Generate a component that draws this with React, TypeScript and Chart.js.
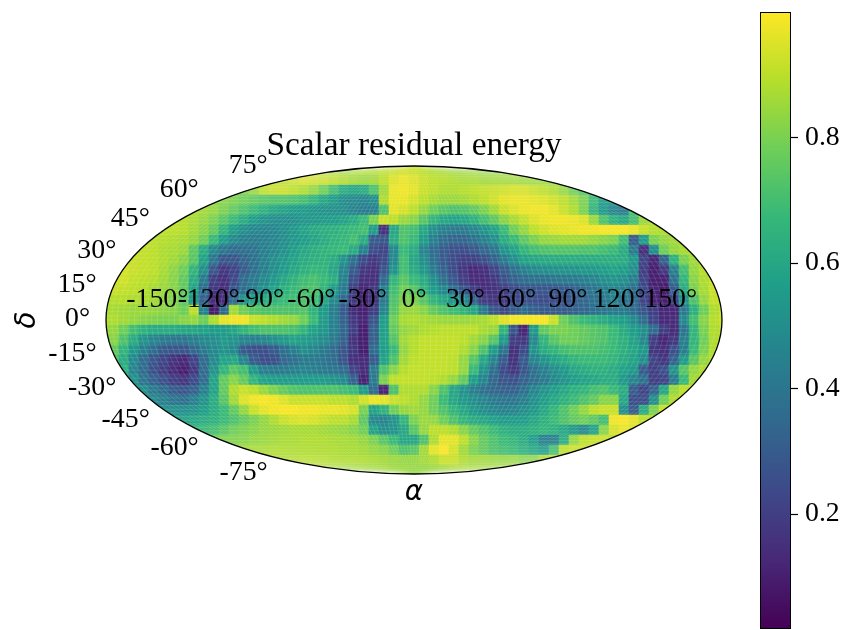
import React, { useEffect, useRef } from "react";
import { Chart, registerables } from "chart.js";

Chart.register(...registerables);

// Residual energy in percent, read from the map. Each row is one band of the
// projected map, top to bottom, and is centred on the map's central meridian.
const r00 = [88,88,87,86,87,88,88,90,92,93,92,90,88,87,86,85,85,84,84,84,84];
const r01 = [88,89,90,92,94,93,92,90,88,86,85,86,90,95,97,95,92,90,89,88,87,87,86,86,86,86,85,85,85,84,82];
const r02 = [78,80,84,90,92,92,90,88,84,78,70,62,60,62,72,86,97,98,96,92,90,88,88,89,90,91,92,93,94,94,92,90,88,84,78,72,70];
const r03 = [82,82,80,78,76,74,73,73,72,70,66,60,55,50,48,46,50,88,97,97,94,90,87,85,85,86,88,90,93,96,97,97,96,95,93,90,86,80,68,55,55];
const r04 = [88,86,84,80,76,72,68,64,60,58,56,55,53,52,51,50,46,43,44,72,96,94,90,84,78,74,72,73,76,80,86,92,95,97,98,98,96,92,88,80,66,54,46,42,70];
const r05 = [90,89,87,84,80,74,68,62,56,52,50,50,51,53,54,55,56,58,62,68,80,92,90,85,82,74,66,60,58,60,64,70,75,82,87,91,95,97,98,98,97,95,85,72,64,60,70,85,88];
const r06 = [90,90,90,89,86,82,76,66,56,50,47,46,47,50,54,58,61,63,64,66,68,70,55,15,60,72,70,60,50,44,42,42,46,52,58,68,78,84,90,93,95,96,97,98,98,99,99,99,97,92,89,88,88];
const r07 = [90,90,89,88,87,84,78,68,56,48,44,43,44,46,50,53,56,59,62,65,67,70,62,30,28,62,72,68,56,44,36,33,33,38,44,50,62,68,75,80,84,85,86,86,86,84,82,80,70,30,55,80,84,86,87];
const r08 = [92,91,90,88,87,85,75,62,48,40,36,37,39,44,47,51,56,60,63,65,67,68,62,45,25,22,48,68,62,46,36,30,26,25,29,34,40,52,58,66,70,72,73,73,73,72,72,70,68,62,42,15,50,78,84,87,90];
const r09 = [93,92,91,90,88,86,82,74,58,40,28,28,33,38,44,50,54,58,62,64,65,62,52,38,24,18,24,48,70,60,50,38,30,24,20,21,26,32,42,50,58,60,61,62,62,62,62,62,63,63,62,54,22,12,32,64,80,86,89];
const r10 = [95,94,92,91,90,87,83,78,66,50,28,18,22,30,38,44,50,55,60,64,67,66,60,46,30,18,15,27,52,70,62,54,42,32,24,17,13,15,22,30,38,44,48,50,51,52,52,53,54,56,58,56,50,20,10,18,44,70,84,89,91];
const r11 = [94,93,91,90,89,86,82,76,62,42,20,15,24,36,42,48,54,60,65,69,71,68,63,45,25,15,15,35,66,74,68,62,50,38,28,20,14,14,18,26,32,36,38,38,40,41,42,44,46,50,52,50,44,22,10,11,38,66,82,88,92];
const r12 = [91,92,91,90,89,87,85,82,76,58,36,18,15,28,38,44,52,58,64,68,71,72,66,55,42,20,12,18,45,70,78,74,66,56,48,38,28,20,15,16,20,24,28,28,28,28,30,32,36,40,44,47,44,38,24,12,9,30,62,80,87,92,93];
const r13 = [89,89,89,88,88,86,84,81,75,54,32,14,14,36,52,58,62,65,68,70,72,70,60,48,35,18,11,17,42,72,80,80,74,66,60,54,48,32,20,17,19,23,26,26,25,25,27,30,34,38,42,44,40,36,22,12,10,22,52,72,84,91,92];
const r14 = [88,87,86,85,85,84,83,82,78,90,45,10,35,86,78,74,72,72,72,72,73,65,55,44,30,14,11,20,47,74,84,85,82,76,72,69,66,60,42,28,24,30,36,32,30,30,30,32,34,38,40,42,42,36,28,20,13,13,42,64,78,88,92];
const r15 = [89,88,86,84,82,81,80,80,82,84,78,88,96,98,98,92,90,88,86,84,78,68,55,45,32,18,12,28,56,78,87,88,87,86,85,85,85,86,87,90,95,98,99,99,99,92,78,72,68,65,62,58,56,48,36,22,13,14,48,70,82,89,92];
const r16 = [86,84,78,70,65,62,62,62,60,60,58,56,56,60,66,70,72,72,72,71,66,58,53,45,34,20,10,32,57,76,84,86,88,89,90,90,90,90,87,85,66,28,12,55,76,80,80,78,76,74,72,68,62,56,50,36,20,14,40,66,80,88,90];
const r17 = [84,82,72,62,52,46,42,40,40,44,48,50,54,52,46,44,46,50,54,58,56,53,49,42,32,16,10,32,57,73,86,89,91,91,91,91,90,86,82,74,55,20,18,48,66,74,78,78,76,74,72,68,64,58,48,20,12,18,44,66,78,88,90];
const r18 = [78,76,66,54,44,36,30,28,28,34,42,48,52,48,30,26,26,30,38,44,50,47,42,36,28,18,10,36,56,68,84,89,91,91,91,91,88,82,72,56,40,16,24,52,62,66,70,72,72,72,70,68,64,60,54,18,15,26,44,68,80,88,90];
const r19 = [74,62,48,36,28,22,16,13,22,36,48,58,60,46,30,25,26,34,38,42,42,40,36,27,15,14,30,58,72,86,90,91,91,91,90,84,74,60,46,30,16,30,46,52,58,62,66,68,68,68,66,62,58,50,22,17,32,55,74,84,90];
const r20 = [72,64,46,36,26,20,14,10,18,36,52,66,74,70,54,44,42,42,44,46,44,42,40,36,22,14,42,72,82,89,91,91,91,91,90,84,68,52,38,24,18,28,38,44,50,54,60,62,64,64,62,58,54,30,20,26,52,74,84,88,90];
const r21 = [62,52,40,32,26,20,17,24,36,58,76,82,76,66,58,56,55,55,55,55,55,52,48,32,11,42,80,90,91,91,91,90,88,84,76,56,46,34,28,26,32,38,42,48,52,56,58,60,62,62,54,46,38,20,22,42,68,86,90];
const r22 = [58,50,42,36,30,28,32,44,58,76,88,92,90,85,80,76,73,72,72,72,72,70,68,55,36,12,72,88,88,88,82,72,60,52,44,38,34,32,32,38,46,52,56,60,64,66,70,72,68,62,30,22,32,60,84,90,92];
const r23 = [52,48,44,40,38,44,52,62,74,86,95,98,99,98,95,92,92,92,92,90,90,88,93,97,96,92,90,88,84,78,68,60,54,50,46,42,40,40,44,50,56,60,64,68,72,76,82,82,60,25,25,50,78,88,92];
const r24 = [52,50,50,50,52,56,62,68,76,84,92,96,98,99,99,98,98,97,97,96,94,80,58,65,78,84,86,84,78,72,66,60,54,50,47,45,46,50,54,60,66,72,78,84,90,92,92,50,30,62,80,92,93];
const r25 = [58,58,60,62,64,68,72,76,80,84,88,92,94,95,94,92,90,90,87,75,48,46,52,66,80,85,84,78,72,66,62,60,57,55,55,56,60,64,68,72,76,78,75,70,98,99,96,90,88];
const r26 = [66,68,70,74,78,80,82,84,85,86,87,87,87,86,85,84,82,78,58,50,52,60,74,84,90,90,88,82,76,72,68,64,62,62,64,66,64,60,54,48,58,82,94,97,95];
const r27 = [78,80,81,82,84,85,86,87,87,88,88,88,87,87,86,84,80,74,68,60,60,72,88,96,96,90,82,76,72,68,66,62,56,44,44,62,84,90,92,92,90];
const r28 = [86,86,87,87,88,88,88,88,88,88,88,87,87,86,84,82,78,72,74,86,96,99,94,86,80,76,72,70,68,64,60,56,70,90,92,92,92];
const r29 = [88,88,88,88,89,89,89,88,88,88,88,87,86,85,84,84,86,88,92,92,88,86,86,85,84,84,82,82,88,90,92];
const r30 = [88,88,87,86,86,86,86,86,85,85,84,84,85,86,87,87,86,86,86,86,88];

const mapRows = [r00,r01,r02,r03,r04,r05,r06,r07,r08,r09,r10,r11,r12,r13,r14,r15,r16,r17,r18,r19,r20,r21,r22,r23,r24,r25,r26,r27,r28,r29,r30];
const lonTicks = [-150,-120,-90,-60,-30,0,30,60,90,120,150];
const latTicks = [75,60,45,30,15,0,-15,-30,-45,-60,-75];
const colorbarTicks = [0.2,0.4,0.6,0.8];
const valueMin = 0.017;
const valueMax = 1.0;
const viridis = ["#440154","#482878","#3e4989","#31688e","#26828e","#1f9e89","#35b779","#6ece58","#b5de2b","#fde725"];

const TIMES = "'Liberation Serif'";
const LABEL_SIZE = 27.8;
const HALF_X = 30.8; // half map width, in columns
const HALF_Y = 15.4; // half map height, in rows

function hexToRgb(h: string) {
  return [parseInt(h.slice(1,3),16), parseInt(h.slice(3,5),16), parseInt(h.slice(5,7),16)];
}
function colorFor(v: number) {
  const t = Math.max(0, Math.min(1, (v - valueMin) / (valueMax - valueMin))) * (viridis.length - 1);
  const i = Math.min(viridis.length - 2, Math.floor(t));
  const a = hexToRgb(viridis[i]), b = hexToRgb(viridis[i + 1]), f = t - i;
  return `rgb(${a.map((c, k) => Math.round(c + (b[k] - c) * f)).join(",")})`;
}
// Mollweide auxiliary angle for a latitude in degrees
function auxAngle(latDeg: number) {
  const phi = (latDeg * Math.PI) / 180;
  if (Math.abs(Math.abs(latDeg) - 90) < 1e-6) return Math.sign(latDeg) * Math.PI / 2;
  let th = phi;
  for (let k = 0; k < 30; k++) {
    th -= (2 * th + Math.sin(2 * th) - Math.PI * Math.sin(phi)) / (2 + 2 * Math.cos(2 * th));
  }
  return th;
}
const projX = (lon: number, lat: number) => (lon / 180) * HALF_X * Math.cos(auxAngle(lat));
const projY = (lat: number) => HALF_Y * Math.sin(auxAngle(lat));

const cells: { x: number; y: number; v: number }[] = [];
mapRows.forEach((row, j) => {
  row.forEach((n, i) => {
    cells.push({ x: i - (row.length - 1) / 2, y: 15 - j, v: n / 100 });
  });
});

const mapPlugin = {
  id: "mollweideFrame",
  beforeDatasetsDraw(chart: any) {
    const { ctx, scales: { x, y } } = chart;
    const cx = x.getPixelForValue(0), cy = y.getPixelForValue(0);
    ctx.save();
    ctx.beginPath();
    ctx.ellipse(cx, cy, x.getPixelForValue(HALF_X) - cx, cy - y.getPixelForValue(HALF_Y), 0, 0, Math.PI * 2);
    ctx.clip();
  },
  afterDatasetsDraw(chart: any) {
    const { ctx, scales: { x, y } } = chart;
    const cx = x.getPixelForValue(0), cy = y.getPixelForValue(0);
    const rx = x.getPixelForValue(HALF_X) - cx, ry = cy - y.getPixelForValue(HALF_Y);
    // faint seams between the mesh cells
    ctx.strokeStyle = "rgba(255,255,255,0.13)";
    ctx.lineWidth = 1;
    ctx.beginPath();
    for (let lat = -88; lat <= 88; lat += 2) {
      const py = y.getPixelForValue(projY(lat));
      ctx.moveTo(cx - rx, py);
      ctx.lineTo(cx + rx, py);
    }
    for (let lon = -180; lon <= 180; lon += 3.33) {
      for (let lat = -88; lat <= 88; lat += 4) {
        const px = x.getPixelForValue(projX(lon, lat)), py = y.getPixelForValue(projY(lat));
        if (lat === -88) ctx.moveTo(px, py); else ctx.lineTo(px, py);
      }
    }
    ctx.stroke();
    ctx.restore();

    ctx.save();
    ctx.strokeStyle = "#000";
    ctx.lineWidth = 1.3;
    ctx.beginPath();
    ctx.ellipse(cx, cy, rx, ry, 0, 0, Math.PI * 2);
    ctx.stroke();

    ctx.fillStyle = "#000";
    ctx.font = `${LABEL_SIZE}px ${TIMES}`;
    ctx.textBaseline = "alphabetic";
    ctx.textAlign = "center";
    lonTicks.forEach((lon) => {
      ctx.fillText(`${lon}°`, x.getPixelForValue(projX(lon, 0)), cy - 13);
    });
    ctx.textAlign = "right";
    ctx.textBaseline = "middle";
    latTicks.forEach((lat) => {
      const ex = x.getPixelForValue(projX(-180, lat)) - 16;
      const ey = y.getPixelForValue(projY(lat) * 1.1) - 1;
      ctx.fillText(`${lat}°`, ex, ey);
    });
    ctx.restore();
  },
};

export default function App() {
  const mapRef = useRef<HTMLCanvasElement>(null);
  const barRef = useRef<HTMLCanvasElement>(null);

  useEffect(() => {
    const map = new Chart(mapRef.current as HTMLCanvasElement, {
      type: "scatter",
      data: {
        datasets: [{
          label: "Scalar residual energy",
          data: cells.map((c) => ({ x: c.x, y: c.y })),
          pointStyle: "rect",
          pointRadius: 7.5,
          pointHoverRadius: 7.5,
          pointBorderWidth: 0,
          pointBackgroundColor: cells.map((c) => colorFor(c.v)),
          showLine: false,
        }],
      },
      options: {
        responsive: false,
        animation: false,
        events: [],
        layout: { autoPadding: false, padding: { left: 0, right: 122, top: 0, bottom: 0 } },
        plugins: {
          legend: { display: false },
          tooltip: { enabled: false },
          title: {
            display: true,
            fullSize: false,
            text: "Scalar residual energy",
            color: "#000",
            font: { family: TIMES, size: 33.3, weight: "normal", lineHeight: 1.2 },
            padding: { top: 126, bottom: 0.04 },
          },
        },
        scales: {
          x: {
            type: "linear", min: -HALF_X, max: HALF_X,
            border: { display: false },
            grid: { display: false, drawTicks: false },
            ticks: { display: false },
            title: {
              display: true, text: "α", color: "#000",
              font: { family: "'DejaVu Sans'", size: LABEL_SIZE, style: "italic", weight: "normal", lineHeight: 1.2 },
              padding: { top: 2, bottom: 120.64 },
            },
          },
          y: {
            type: "linear", min: -HALF_Y, max: HALF_Y,
            border: { display: false },
            grid: { display: false, drawTicks: false },
            ticks: { display: false },
            title: {
              display: true, text: "δ", color: "#000",
              font: { family: "'DejaVu Sans'", size: LABEL_SIZE, style: "italic", weight: "normal", lineHeight: 1.2 },
              padding: { top: 11, bottom: 61.64 },
            },
          },
        },
      },
      plugins: [mapPlugin],
    } as any);

    const bar = new Chart(barRef.current as HTMLCanvasElement, {
      type: "bar",
      data: {
        labels: [""],
        datasets: [{
          data: [[valueMin, valueMax]],
          barPercentage: 1,
          categoryPercentage: 1,
          borderColor: "#000",
          borderWidth: 1.3,
          borderSkipped: false,
          backgroundColor: (c: any) => {
            const area = c.chart.chartArea;
            if (!area) return viridis[0];
            const g = c.chart.ctx.createLinearGradient(0, area.bottom, 0, area.top);
            viridis.forEach((h, i) => g.addColorStop(i / (viridis.length - 1), h));
            return g;
          },
        }],
      },
      options: {
        responsive: false,
        animation: false,
        events: [],
        layout: { autoPadding: false, padding: { left: 20, right: 0, top: 12, bottom: 1 } },
        plugins: { legend: { display: false }, tooltip: { enabled: false } },
        scales: {
          x: { display: false },
          y: {
            position: "right",
            min: valueMin, max: valueMax,
            afterBuildTicks: (axis: any) => { axis.ticks = colorbarTicks.map((value) => ({ value })); },
            afterFit: (axis: any) => { axis.width = 53; axis.paddingTop = 0; axis.paddingBottom = 0; },
            border: { display: false },
            grid: { drawOnChartArea: false, drawTicks: true, tickLength: 7, color: "#000", tickWidth: 1.2 },
            ticks: {
              color: "#000",
              padding: 7,
              font: { family: TIMES, size: LABEL_SIZE },
              callback: (v: any) => Number(v).toFixed(1),
            },
          },
        },
      },
    } as any);

    return () => { map.destroy(); bar.destroy(); };
  }, []);

  return (
    <div style={{ position: "absolute", left: 0, top: 0, width: 844, height: 630, background: "#fff", overflow: "hidden" }}>
      <canvas ref={mapRef} width={844} height={630} style={{ position: "absolute", left: 0, top: 0, display: "block" }} />
      <canvas ref={barRef} width={104} height={630} style={{ position: "absolute", left: 740, top: 0, display: "block" }} />
    </div>
  );
}
